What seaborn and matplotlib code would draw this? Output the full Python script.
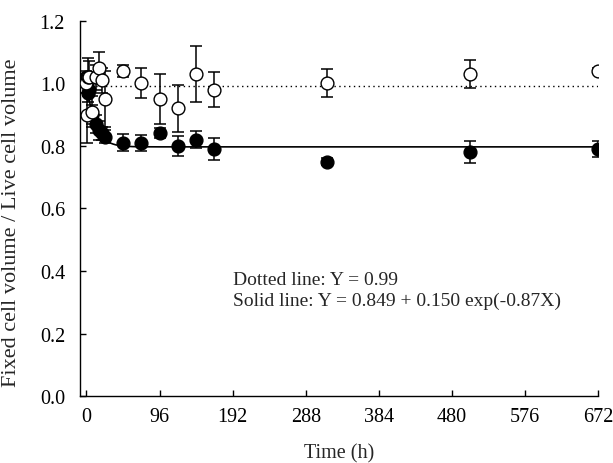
import numpy as np
import pandas as pd
import matplotlib
matplotlib.use("Agg")
import matplotlib.pyplot as plt
import seaborn as sns

# ---- data ----
time_h = [0, 1, 2, 4, 8, 12, 16, 20, 24, 48, 72, 96, 120, 144, 168, 316, 504, 672]
open_vals = [1.00, 0.90, 1.02, 1.02, 0.91, 1.02, 1.05, 1.01, 0.95,
             1.04, 1.00, 0.95, 0.92, 1.03, 0.98, 1.00, 1.03, 1.04]
open_err = [0.03, 0.09, 0.06, 0.05, 0.05, 0.04, 0.05, 0.04, 0.09,
            0.02, 0.048, 0.08, 0.075, 0.09, 0.057, 0.045, 0.045, 0.008]
filled_vals = [1.02, 1.00, 0.97, 0.98, 0.90, 0.87, 0.85, 0.84, 0.83,
               0.81, 0.81, 0.84, 0.80, 0.82, 0.79, 0.75, 0.78, 0.79]
filled_err = [0.02, 0.03, 0.03, 0.02, 0.03, 0.03, 0.03, 0.02, 0.02,
              0.027, 0.026, 0.016, 0.032, 0.028, 0.035, 0.012, 0.035, 0.025]

dotted_level = 0.99
fit_asym, fit_amp, fit_rate = 0.797, 0.21, 0.09   # solid fitted curve as drawn

x_ticks = [0, 96, 192, 288, 384, 480, 576, 672]
y_ticks = [0.0, 0.2, 0.4, 0.6, 0.8, 1.0, 1.2]
note1 = "Dotted line: Y = 0.99"
note2 = "Solid line: Y = 0.849 + 0.150 exp(-0.87X)"

# ---- styling ----
sns.set_theme(style="ticks")
plt.rcParams["font.family"] = ["Liberation Serif", "DejaVu Serif"]
FS = 14.5

fig = plt.figure(figsize=(6.13, 4.64), dpi=100)
ax = fig.add_axes([0.131, 0.144, 0.845, 0.809])

# fitted lines
xfit = np.linspace(0, 672, 2000)
ax.plot(xfit, fit_asym + fit_amp * np.exp(-fit_rate * xfit), color="black", lw=1.2, zorder=1)
ax.plot([0, 672], [dotted_level, dotted_level], color="black", lw=1.0,
        linestyle=(0, (1, 2.5)), zorder=1)

df_f = pd.DataFrame({"t": time_h, "v": filled_vals})
df_o = pd.DataFrame({"t": time_h, "v": open_vals})

ax.errorbar(time_h, filled_vals, yerr=filled_err, fmt="none", ecolor="black",
            elinewidth=1.1, capsize=4, capthick=1.1, zorder=2)
sns.scatterplot(data=df_f, x="t", y="v", ax=ax, s=85, color="black",
                edgecolor="black", linewidth=1.0, zorder=3, legend=False)
ax.errorbar(time_h, open_vals, yerr=open_err, fmt="none", ecolor="black",
            elinewidth=1.1, capsize=4, capthick=1.1, zorder=4)
sns.scatterplot(data=df_o, x="t", y="v", ax=ax, s=85, color="white",
                edgecolor="black", linewidth=1.0, zorder=5, legend=False)

ax.set_xlim(-8, 672)
ax.set_ylim(0, 1.2)
ax.set_xticks(x_ticks)
ax.set_xticklabels([str(t) for t in x_ticks], fontsize=FS)
ax.set_yticks(y_ticks)
ax.set_yticklabels([f"{t:.1f}" for t in y_ticks], fontsize=FS)
ax.tick_params(direction="in", length=4, width=1.0, colors="black")
ax.tick_params(axis="x", pad=8)
ax.tick_params(axis="y", pad=11)
for s in ["top", "right"]:
    ax.spines[s].set_visible(False)
for s in ["left", "bottom"]:
    ax.spines[s].set_linewidth(1.0)
    ax.spines[s].set_color("black")

ax.set_xlabel("Time (h)", fontsize=FS, labelpad=12)
ax.set_ylabel("Fixed cell volume / Live cell volume", fontsize=16, labelpad=8)
ax.yaxis.set_label_coords(-0.115, 0.465)

ax.text(192, 0.372, note1, fontsize=14, va="center", ha="left")
ax.text(192, 0.305, note2, fontsize=14, va="center", ha="left")

fig.savefig("out.png", dpi=100)
